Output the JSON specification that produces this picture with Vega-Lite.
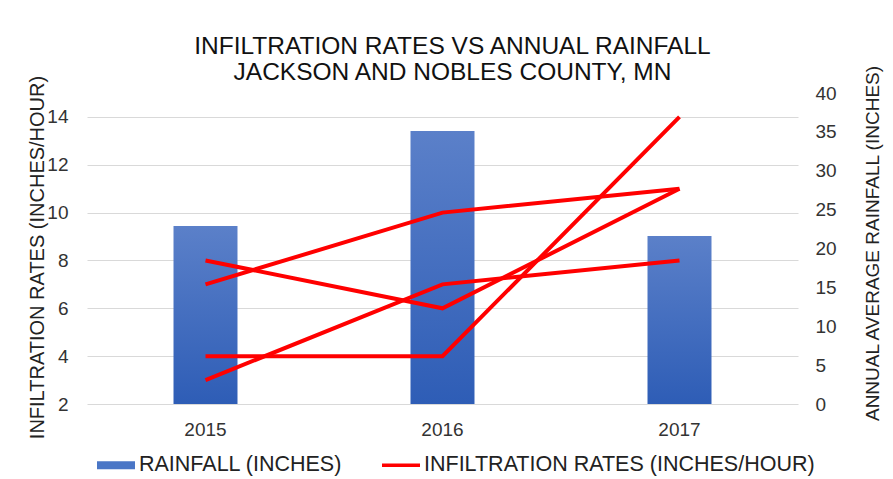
{
  "$schema": "https://vega.github.io/schema/vega-lite/v6.json",
  "width": 711,
  "height": 311,
  "autosize": "none",
  "padding": {"left": 87, "top": 93, "right": 95, "bottom": 75},
  "background": "white",
  "title": {
    "text": ["INFILTRATION RATES VS ANNUAL RAINFALL", "JACKSON AND NOBLES COUNTY, MN"],
    "fontSize": 24.5,
    "font": "Liberation Sans",
    "fontWeight": "normal",
    "color": "#111111",
    "lineHeight": 26,
    "anchor": "middle",
    "dx": 10,
    "offset": -21
  },
  "config": {"view": {"stroke": null}, "font": "Liberation Sans"},
  "layer": [
    {
      "data": {"values": [
        {"year": "2015", "rainfall": 22.9},
        {"year": "2016", "rainfall": 35.1},
        {"year": "2017", "rainfall": 21.6}
      ]},
      "mark": {
        "type": "bar",
        "fill": {"gradient": "linear", "x1": 0, "y1": 0, "x2": 0, "y2": 1,
          "stops": [{"offset": 0, "color": "#5b80c9"}, {"offset": 1, "color": "#2e5db6"}]}
      },
      "encoding": {
        "x": {
          "field": "year", "type": "nominal",
          "scale": {"paddingInner": 0.73, "paddingOuter": 0.365},
          "axis": {"title": null, "labelAngle": 0, "ticks": false, "domain": false, "labelFontSize": 19, "labelColor": "#333333", "labelPadding": 16, "labelFont": "Liberation Sans"}
        },
        "y": {
          "field": "rainfall", "type": "quantitative",
          "scale": {"domain": [0, 40], "nice": false},
          "axis": {
            "orient": "right", "values": [0, 5, 10, 15, 20, 25, 30, 35, 40],
            "grid": false, "ticks": false, "domain": false,
            "labelFontSize": 19, "labelColor": "#333333", "labelPadding": 17, "labelFont": "Liberation Sans",
            "title": "ANNUAL AVERAGE RAINFALL (INCHES)", "titleFontSize": 19, "titleFontWeight": "normal",
            "titleColor": "#222222", "titleAngle": 270, "titleX": 74, "titleY": 150,
            "titleAlign": "center", "titleBaseline": "middle", "titleFont": "Liberation Sans"
          }
        }
      }
    },
    {
      "data": {"values": [
        {"year": "2015", "rate": 7, "line": "A", "series": "INFILTRATION RATES (INCHES/HOUR)"},
        {"year": "2016", "rate": 10, "line": "A", "series": "INFILTRATION RATES (INCHES/HOUR)"},
        {"year": "2017", "rate": 11, "line": "A", "series": "INFILTRATION RATES (INCHES/HOUR)"},
        {"year": "2015", "rate": 8, "line": "B", "series": "INFILTRATION RATES (INCHES/HOUR)"},
        {"year": "2016", "rate": 6, "line": "B", "series": "INFILTRATION RATES (INCHES/HOUR)"},
        {"year": "2017", "rate": 11, "line": "B", "series": "INFILTRATION RATES (INCHES/HOUR)"},
        {"year": "2015", "rate": 4, "line": "C", "series": "INFILTRATION RATES (INCHES/HOUR)"},
        {"year": "2016", "rate": 4, "line": "C", "series": "INFILTRATION RATES (INCHES/HOUR)"},
        {"year": "2017", "rate": 14, "line": "C", "series": "INFILTRATION RATES (INCHES/HOUR)"},
        {"year": "2015", "rate": 3, "line": "D", "series": "INFILTRATION RATES (INCHES/HOUR)"},
        {"year": "2016", "rate": 7, "line": "D", "series": "INFILTRATION RATES (INCHES/HOUR)"},
        {"year": "2017", "rate": 8, "line": "D", "series": "INFILTRATION RATES (INCHES/HOUR)"}
      ]},
      "mark": {"type": "line", "strokeWidth": 4, "strokeJoin": "miter"},
      "encoding": {
        "x": {
          "field": "year", "type": "nominal",
          "axis": {"title": null, "labelAngle": 0, "ticks": false, "domain": false, "labelFontSize": 19, "labelColor": "#333333", "labelPadding": 16, "labelFont": "Liberation Sans"}
        },
        "y": {
          "field": "rate", "type": "quantitative",
          "scale": {"domain": [2, 15], "nice": false},
          "axis": {
            "orient": "left", "values": [2, 4, 6, 8, 10, 12, 14],
            "grid": true, "gridColor": "#d9d9d9", "gridWidth": 1,
            "ticks": false, "domain": false,
            "labelFontSize": 19, "labelColor": "#333333", "labelPadding": 19, "labelFont": "Liberation Sans",
            "title": "INFILTRATION RATES (INCHES/HOUR)", "titleFontSize": 20, "titleFontWeight": "normal",
            "titleColor": "#222222", "titleAngle": 270, "titleX": -50, "titleY": 164,
            "titleAlign": "center", "titleBaseline": "middle", "titleFont": "Liberation Sans"
          }
        },
        "detail": {"field": "line", "type": "nominal"},
        "color": {
          "field": "series", "type": "nominal",
          "scale": {"domain": ["RAINFALL (INCHES)", "INFILTRATION RATES (INCHES/HOUR)"], "range": ["#4472C4", "#FF0000"]},
          "legend": {
            "orient": "none", "legendX": 10, "legendY": 353, "direction": "horizontal",
            "title": null, "labelFontSize": 21.5, "labelColor": "#222222", "labelFont": "Liberation Sans",
            "labelLimit": 600,
            "symbolSize": 1444, "labelOffset": 4, "columnPadding": 39,
            "encode": {
              "symbols": {"update": {
                "shape": {"signal": "datum.value === 'RAINFALL (INCHES)' ? 'M-1,-0.21H1V0.21H-1Z' : 'M-1,-0.09H1V0.09H-1Z'"},
                "fill": {"signal": "datum.value === 'RAINFALL (INCHES)' ? '#4a76c6' : '#FF0000'"},
                "stroke": {"value": "transparent"},
                "strokeWidth": {"value": 0},
                "opacity": {"value": 1}
              }}
            }
          }
        }
      }
    }
  ],
  "resolve": {"scale": {"y": "independent"}}
}
